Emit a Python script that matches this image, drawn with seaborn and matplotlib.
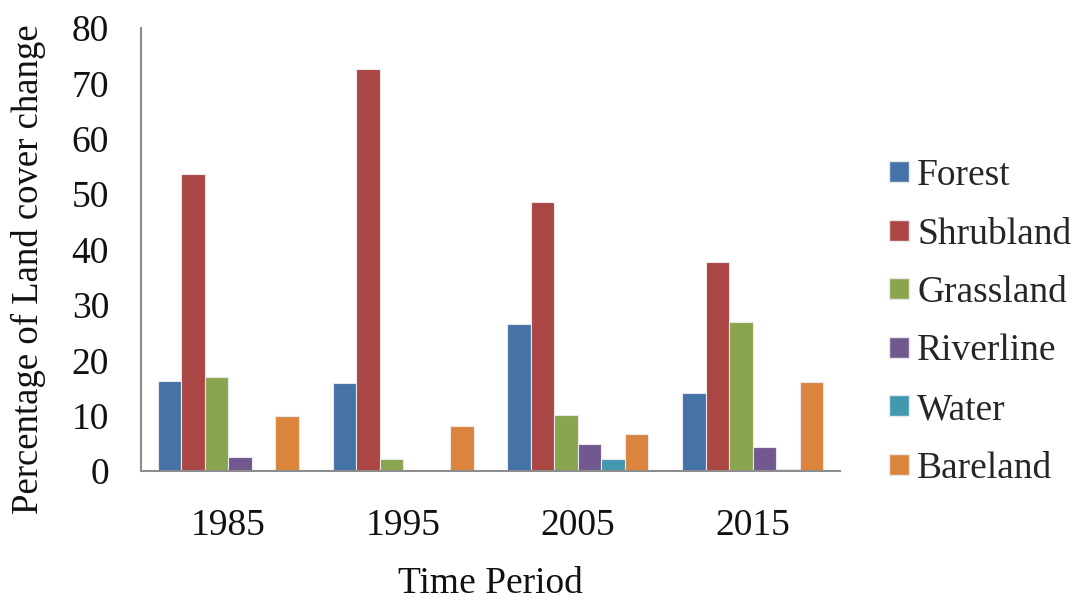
import matplotlib
matplotlib.use("Agg")
import matplotlib.pyplot as plt
import seaborn as sns
import pandas as pd
from matplotlib.patches import Patch

years = ["1985", "1995", "2005", "2015"]
classes = ["Forest", "Shrubland", "Grassland", "Riverline", "Water", "Bareland"]
forest = [16.3, 15.9, 26.6, 14.0]
shrubland = [53.6, 72.6, 48.5, 37.8]
grassland = [16.9, 2.1, 10.2, 26.9]
riverline = [2.6, 0.0, 4.8, 4.3]
water = [0.0, 0.0, 2.1, 0.3]
bareland = [10.0, 8.2, 6.6, 16.1]
colors = ["#4572A7", "#AA4643", "#89A54E", "#71588F", "#4198AF", "#DB843D"]

series = [forest, shrubland, grassland, riverline, water, bareland]
rows = []
for cls, vals in zip(classes, series):
    for y, v in zip(years, vals):
        rows.append({"Year": y, "Class": cls, "Value": v})
df = pd.DataFrame(rows)

sns.set_theme(style="white")
plt.rcParams["font.family"] = ["Liberation Serif", "DejaVu Serif"]

FS = 27
fig = plt.figure(figsize=(10.84, 6.05), dpi=100)
ax = fig.add_axes([141/1084, 1-471/605, (840-141)/1084, (471-28)/605])

sns.barplot(data=df, x="Year", y="Value", hue="Class", order=years,
            hue_order=classes, palette=colors, saturation=1, width=0.807,
            gap=0, edgecolor="#e8e8ee", linewidth=0.8, ax=ax, legend=False)

ax.set_ylim(0, 80)
ax.set_yticks(range(0, 81, 10))
ax.set_xlim(-0.5, 3.5)
ax.tick_params(axis="both", labelsize=FS, length=0, colors="#111111")
ax.tick_params(axis="x", pad=27)
ax.tick_params(axis="y", pad=23)
for s in ["top", "right"]:
    ax.spines[s].set_visible(False)
for s in ["left", "bottom"]:
    ax.spines[s].set_color("#8c8c8c")
    ax.spines[s].set_linewidth(1.5)

ax.set_xlabel("Time Period", fontsize=FS, labelpad=17, color="#111111")
ax.set_ylabel("Percentage of Land cover change", fontsize=26.5, color="#111111")
ax.yaxis.set_label_coords(-0.136, 0.455)

handles = [Patch(facecolor=c, edgecolor="#e8e8ee", label=l) for c, l in zip(colors, classes)]
fig.legend(handles=handles, loc="center left", bbox_to_anchor=(889/1084, 1-322/605),
           frameon=False, fontsize=FS, handlelength=0.53, handleheight=0.48,
           handletextpad=0.22, labelspacing=0.64, borderpad=0, borderaxespad=0)

fig.savefig("out.png", dpi=100)
